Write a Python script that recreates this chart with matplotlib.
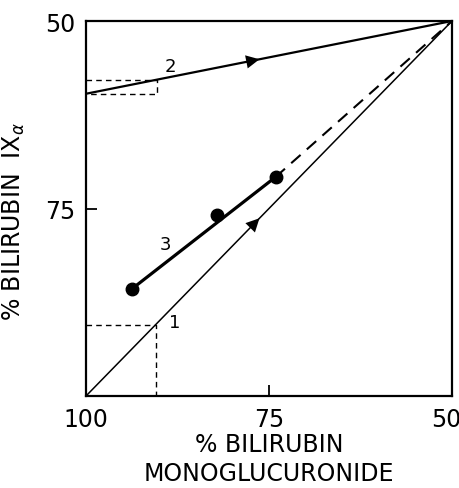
import numpy as np
import matplotlib
matplotlib.use("Agg")
from matplotlib import pyplot as plt
from matplotlib.transforms import ScaledTranslation

# curve 1 (diagonal) and curve 2, in % monoglucuronide (x) vs % IX-alpha (y)
line1_x = [100, 50]
line1_y = [100, 50]
line2_x = [100, 50]
line2_y = [59.7, 50]
# measured points, curve 3
pts3_x = [93.7, 82.1, 74.1]
pts3_y = [85.7, 75.9, 70.8]
# dashed guides
guide1 = 90.5
guide2_x = 90.3
guide2_y = 57.8

xticks = [100, 75, 50]
yticks = [75, 50]

plt.rcParams['font.family'] = ['DejaVu Sans']

fig = plt.figure(figsize=(4.6, 4.89), dpi=100)
ax = fig.add_axes([86/460, 92/489, 366/460, 375/489])

ax.plot(line1_x, line1_y, color='k', lw=1.1)
ax.plot(line2_x, line2_y, color='k', lw=1.6)

# curve 3: solid between first and last point, dashed on to the corner
ax.plot([pts3_x[0], pts3_x[-1]], [pts3_y[0], pts3_y[-1]], color='k', lw=2.3)
ax.plot([pts3_x[-1], line1_x[-1]], [pts3_y[-1], line1_y[-1]], color='k',
        lw=1.5, dashes=(6, 4))
ax.plot(pts3_x, pts3_y, 'o', color='k', ms=9)

# guides
ax.plot([100, guide1, guide1], [guide1, guide1, 100], color='k', lw=1,
        dashes=(4, 3))
ax.plot([100, guide2_x, guide2_x, 100],
        [guide2_y, guide2_y, line2_y[0], line2_y[0]], color='k', lw=1,
        dashes=(4, 3))

# arrows
def arrow(x0, x1, xs, ys):
    y0 = np.interp(-x0, [-v for v in xs], ys)
    y1 = np.interp(-x1, [-v for v in xs], ys)
    ax.annotate('', xy=(x1, y1), xytext=(x0, y0),
                arrowprops=dict(arrowstyle='-|>', color='k', lw=0,
                                mutation_scale=24, shrinkA=0, shrinkB=0))

arrow(79.5, 76.3, line1_x, line1_y)
arrow(79.5, 76.3, line2_x, line2_y)

ax.text(88.5, 56.0, '2', fontsize=13, ha='center', va='center')
ax.text(87.9, 90.2, '1', fontsize=13, ha='center', va='center')
ax.text(89.2, 79.7, '3', fontsize=13, ha='center', va='center')

ax.set_xlim(100, 50)
ax.set_ylim(100, 50)
ax.set_xticks(xticks)
ax.set_yticks(yticks)
ax.tick_params(direction='in', length=8, width=1.3, labelsize=17, pad=8)
for lab in ax.get_xticklabels() + ax.get_yticklabels():
    lab.set_family(['Liberation Sans Narrow', 'DejaVu Sans'])
xl = ax.get_xticklabels()
xl[-1].set_transform(xl[-1].get_transform() +
                     ScaledTranslation(-6/100, 0, fig.dpi_scale_trans))
for s in ax.spines.values():
    s.set_linewidth(1.6)

ax.set_xlabel('% BILIRUBIN\nMONOGLUCURONIDE', fontsize=17, linespacing=1.25,
              labelpad=1)
ax.set_ylabel(r'% BILIRUBIN  IX$_\alpha$', fontsize=17)
ax.yaxis.set_label_coords(-0.16, 0.467)

fig.savefig('out.png', dpi=100)
